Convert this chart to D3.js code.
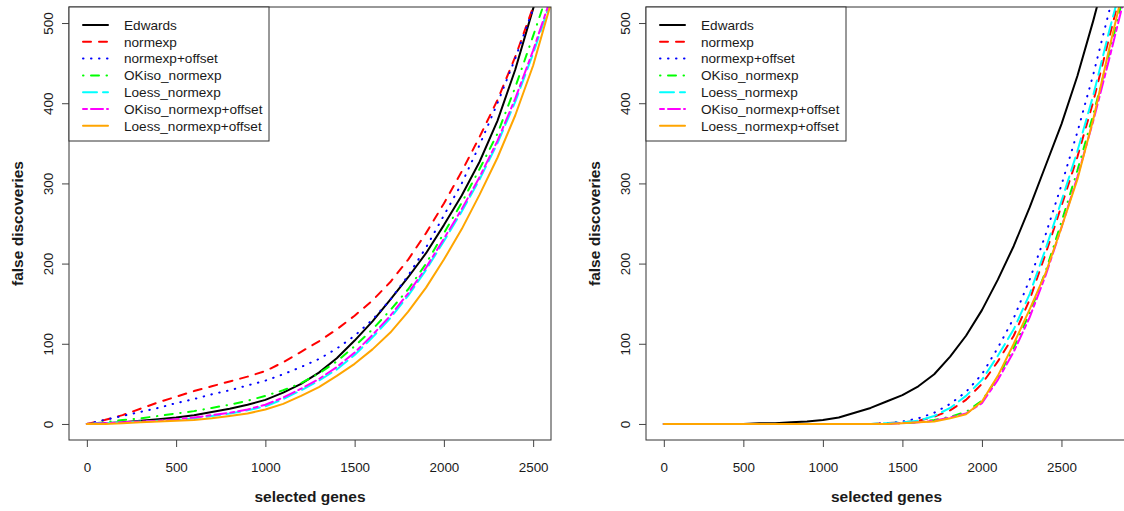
<!DOCTYPE html>
<html>
<head>
<meta charset="utf-8">
<script src="https://cdn.jsdelivr.net/npm/d3@7"></script>
<style>
  body { margin: 0; background: #fff; }
  text { font-family: "Liberation Sans", Arial, sans-serif; fill: #1a1a1a; }
</style>
</head>
<body>
<div id="chart"></div>
<script>

// ---- data ----
var methods = ["Edwards", "normexp", "normexp+offset", "OKiso_normexp",
               "Loess_normexp", "OKiso_normexp+offset", "Loess_normexp+offset"];

var xTicks = [0, 500, 1000, 1500, 2000, 2500];
var yTicks = [0, 100, 200, 300, 400, 500];

// left panel
var leftGenes = [0, 100, 200, 300, 400, 500, 600, 700, 800, 900, 1000, 1100, 1200, 1300,
                 1400, 1500, 1600, 1700, 1800, 1900, 2000, 2100, 2200, 2300, 2400, 2500, 2600];
var leftEdwards    = [0, 1, 2, 4, 6, 8, 11, 15, 19, 24, 30, 39, 50, 64, 82, 104, 128, 155, 183, 213, 248, 285, 327, 378, 442, 518, 590];
var leftNormexp    = [0, 5, 11, 19, 27, 34, 41, 47, 53, 59, 66, 77, 90, 103, 118, 135, 154, 177, 205, 238, 275, 315, 358, 404, 458, 520, 585];
var leftNormexpOff = [0, 5, 10, 15, 20, 26, 31, 37, 42, 48, 54, 62, 71, 81, 94, 110, 130, 155, 185, 220, 260, 300, 348, 400, 456, 518, 585];
var leftOKiso      = [0, 2, 5, 7, 10, 13, 16, 20, 24, 29, 35, 42, 51, 63, 78, 97, 118, 142, 168, 200, 238, 276, 318, 362, 420, 484, 550];
var leftLoess      = [0, 1, 2, 3, 4, 5, 7, 10, 13, 17, 22, 31, 42, 54, 68, 86, 108, 132, 160, 192, 228, 265, 305, 350, 402, 462, 528];
var leftOKisoOff   = [0, 1, 2, 3, 4, 6, 8, 11, 14, 18, 24, 33, 44, 56, 71, 89, 111, 135, 163, 195, 231, 268, 308, 353, 406, 466, 532];
var leftLoessOff   = [0, 0, 1, 2, 3, 4, 5, 7, 10, 13, 18, 25, 35, 46, 60, 75, 93, 114, 140, 170, 205, 243, 286, 332, 385, 447, 525];

// right panel
var rightGenes = [0, 100, 200, 300, 400, 500, 600, 700, 800, 900, 1000, 1100, 1200, 1300, 1400,
                  1500, 1600, 1700, 1800, 1900, 2000, 2100, 2200, 2300, 2400, 2500, 2600, 2700, 2800, 2900];
var rightEdwards    = [0, 0, 0, 0, 0, 0, 1, 1, 2, 3, 5, 8, 14, 20, 28, 36, 47, 62, 84, 110, 142, 180, 222, 270, 322, 374, 434, 503, 578, 650];
var rightNormexp    = [0, 0, 0, 0, 0, 0, 0, 0, 0, 0, 0, 0, 0, 0, 1, 2, 4, 9, 17, 30, 50, 78, 110, 155, 212, 272, 333, 402, 482, 560];
var rightNormexpOff = [0, 0, 0, 0, 0, 0, 0, 0, 0, 0, 0, 0, 0, 0, 1, 3, 7, 14, 25, 40, 62, 95, 132, 180, 236, 298, 364, 436, 515, 590];
var rightOKiso      = [0, 0, 0, 0, 0, 0, 0, 0, 0, 0, 0, 0, 0, 0, 0, 1, 2, 5, 9, 15, 29, 58, 95, 138, 190, 252, 316, 386, 462, 542];
var rightLoess      = [0, 0, 0, 0, 0, 0, 0, 0, 0, 0, 0, 0, 0, 0, 1, 2, 4, 10, 20, 35, 55, 85, 118, 162, 218, 278, 340, 410, 490, 565];
var rightOKisoOff   = [0, 0, 0, 0, 0, 0, 0, 0, 0, 0, 0, 0, 0, 0, 0, 1, 2, 4, 8, 13, 26, 55, 90, 133, 185, 245, 308, 378, 455, 535];
var rightLoessOff   = [0, 0, 0, 0, 0, 0, 0, 0, 0, 0, 0, 0, 0, 0, 0, 1, 2, 3, 7, 12, 28, 60, 100, 143, 188, 245, 305, 380, 468, 552];

var leftXlim = [0, 2500];
var rightXlim = [0, 2800];
var ylim = [0, 500];

// line styles in legend order (R lty 1..6, lwd 2)
var lineColors = ["#000000", "#ff0000", "#0000ff", "#00ff00", "#00ffff", "#ff00ff", "#ffa500"];
var lineDashes = [null, "8,8", "0.5,7.5", "0.5,7.5,8,7.5", "14,6", "4,4,12,4", null];


var svg = d3.select("#chart")
  .append("svg")
    .attr("width", 1124)
    .attr("height", 511);

// R style axis range: 4% padding on both ends
function padLim(lim) {
  var d = (lim[1] - lim[0]) * 0.04;
  return [lim[0] - d, lim[1] + d];
}

function FDPanel(id, box, xlim, genes, series) {

  var chart = this;
  chart.box = box;

  chart.xScale = d3.scaleLinear().domain(padLim(xlim)).range([box.left, box.right]);
  chart.yScale = d3.scaleLinear().domain(padLim(ylim)).range([box.bottom, box.top]);

  svg.append("clipPath").attr("id", "clip-" + id)
    .append("rect")
      .attr("x", box.left).attr("y", box.top)
      .attr("width", box.right - box.left).attr("height", box.bottom - box.top);

  // curves
  var line = d3.line()
    .x(function(d){ return chart.xScale(d[0]) })
    .y(function(d){ return chart.yScale(d[1]) });

  var curves = svg.append("g").attr("clip-path", "url(#clip-" + id + ")");
  series.forEach(function(vals, i){
    var pts = genes.map(function(g, j){ return [g, vals[j]] });
    curves.append("path")
      .datum(pts)
      .attr("d", line)
      .attr("fill", "none")
      .attr("stroke", lineColors[i])
      .attr("stroke-width", 2)
      .attr("stroke-linecap", "round")
      .attr("stroke-linejoin", "round")
      .attr("stroke-dasharray", lineDashes[i]);
  });

  // box
  svg.append("rect")
    .attr("x", box.left).attr("y", box.top)
    .attr("width", box.right - box.left).attr("height", box.bottom - box.top)
    .attr("fill", "none").attr("stroke", "#333").attr("stroke-width", 1);

  // axes
  var xAxis = d3.axisBottom(chart.xScale).tickValues(xTicks).tickFormat(d3.format("d"))
    .tickSize(7).tickPadding(15);
  var gx = svg.append("g")
    .attr("transform", "translate(0," + box.bottom + ")")
    .call(xAxis);
  gx.select(".domain").remove();
  gx.selectAll("line").attr("stroke", "#444");
  gx.selectAll("text").attr("font-size", 13.4).attr("fill", "#222")
    .attr("font-family", "Liberation Sans, Arial, sans-serif");

  var yAxis = d3.axisLeft(chart.yScale).tickValues(yTicks).tickFormat(d3.format("d")).tickSize(7);
  var gy = svg.append("g")
    .attr("transform", "translate(" + box.left + ",0)")
    .call(yAxis);
  gy.select(".domain").remove();
  gy.selectAll("line").attr("stroke", "#444");
  gy.selectAll("text")
    .attr("transform", "rotate(-90)")
    .attr("x", 0).attr("y", -16).attr("dy", null)
    .attr("text-anchor", "middle")
    .attr("font-size", 13.4).attr("fill", "#222")
    .attr("font-family", "Liberation Sans, Arial, sans-serif");

  // axis titles
  svg.append("text")
    .attr("x", (box.left + box.right) / 2).attr("y", 502)
    .attr("text-anchor", "middle")
    .attr("font-size", 15.5).attr("font-weight", "bold")
    .text("selected genes");

  svg.append("text")
    .attr("transform", "translate(" + (box.left - 46.5) + "," + ((box.top + box.bottom) / 2) + ") rotate(-90)")
    .attr("text-anchor", "middle")
    .attr("font-size", 15.5).attr("font-weight", "bold")
    .text("false discoveries");

  // legend
  var lg = svg.append("g").attr("transform", "translate(" + box.left + "," + box.top + ")");
  lg.append("rect")
    .attr("x", 0).attr("y", 0).attr("width", 200).attr("height", 134)
    .attr("fill", "#fff").attr("stroke", "#333").attr("stroke-width", 1);

  methods.forEach(function(name, i){
    var yy = 18 + i * 16.8;
    lg.append("line")
      .attr("x1", 14).attr("x2", 39).attr("y1", yy).attr("y2", yy)
      .attr("stroke", lineColors[i]).attr("stroke-width", 2)
      .attr("stroke-linecap", "round")
      .attr("stroke-dasharray", lineDashes[i]);
    lg.append("text")
      .attr("x", 55).attr("y", yy).attr("dy", "0.36em")
      .attr("font-size", 13.6)
      .text(name);
  });
}

var left = new FDPanel("left", {left: 69, right: 551, top: 7, bottom: 440}, leftXlim, leftGenes,
  [leftEdwards, leftNormexp, leftNormexpOff, leftOKiso, leftLoess, leftOKisoOff, leftLoessOff]);

var right = new FDPanel("right", {left: 646, right: 1127, top: 7, bottom: 440}, rightXlim, rightGenes,
  [rightEdwards, rightNormexp, rightNormexpOff, rightOKiso, rightLoess, rightOKisoOff, rightLoessOff]);

</script>
</body>
</html>
